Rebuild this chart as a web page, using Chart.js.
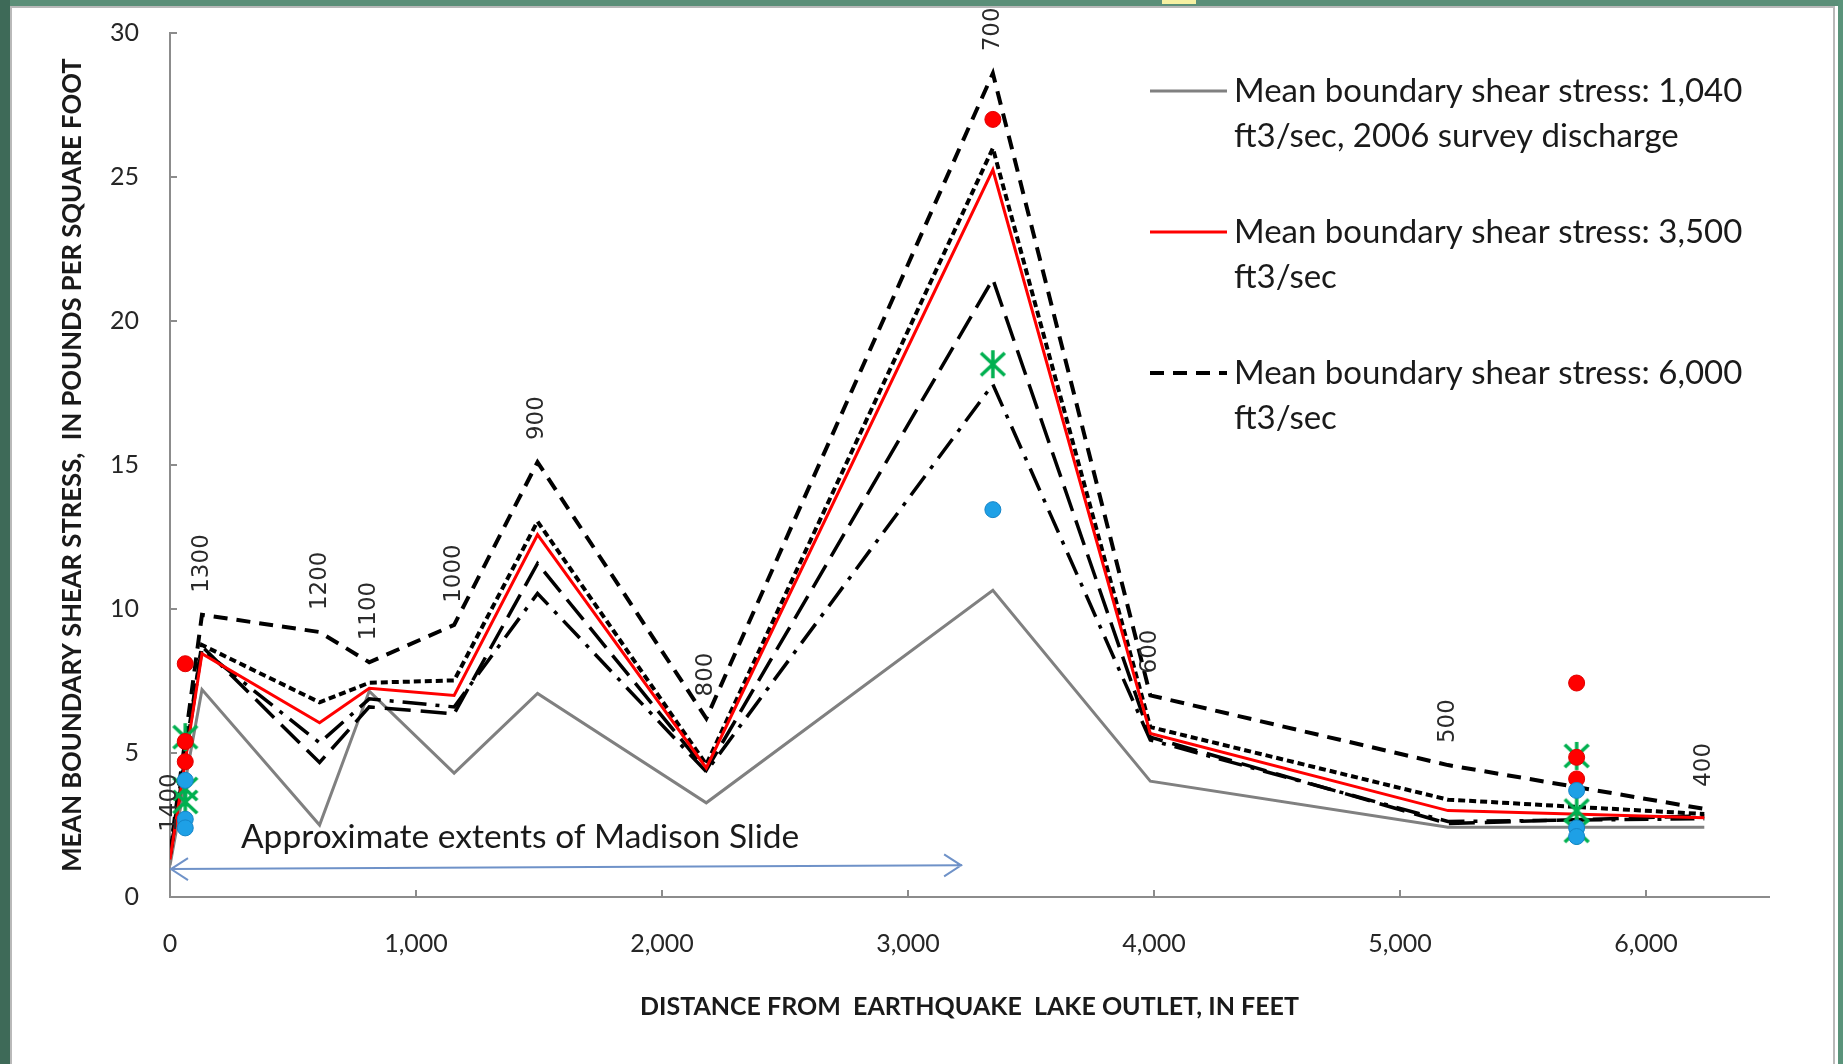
<!DOCTYPE html>
<html>
<head>
<meta charset="utf-8">
<title>Mean boundary shear stress - Madison River</title>
<script src="https://cdn.jsdelivr.net/npm/chart.js@4.4.1/dist/chart.umd.min.js"></script>
<style>
    html, body { margin: 0; padding: 0; background: #ffffff; overflow: hidden; }
    canvas { display: block; }
</style>
</head>
<body>
<canvas id="shearChart" width="1843" height="1064"></canvas>
<script>
// Cross sections (labels) and their distance from the outlet, in feet
const sections = ['1400', '1300', '1200', '1100', '1000', '900', '800', '700', '600', '500', '400'];
const distanceFt = [0, 130, 608, 810, 1155, 1494, 2180, 3345, 3985, 5195, 6237];

// Mean boundary shear stress, lb/ft2
const stress1040 = [1.1, 7.2, 2.5, 7.15, 4.3, 7.07, 3.27, 10.65, 4.02, 2.42, 2.42];
const stress3500 = [1.3, 8.45, 6.05, 7.25, 7.0, 12.58, 4.48, 25.25, 5.68, 3.0, 2.75];
const stress6000 = [1.5, 9.8, 9.2, 8.15, 9.45, 15.1, 6.2, 28.6, 7.0, 4.58, 3.06];
const stressDotted = [1.5, 8.75, 6.76, 7.44, 7.52, 13.04, 4.6, 26.0, 5.9, 3.38, 2.88];
const stressLongDash = [1.4, 8.7, 4.67, 6.6, 6.36, 11.58, 4.4, 21.45, 5.55, 2.55, 2.82];
const stressDashDot = [1.4, 8.6, 5.35, 6.88, 6.6, 10.54, 4.35, 17.8, 5.45, 2.62, 2.72];

// Single measured points
const pointFt = [62, 62, 62, 3345, 5718, 5718, 5718];
const redPointVal = [8.1, 5.4, 4.7, 27.0, 7.43, 4.85, 4.1];
const greenPointVal = [5.55, 3.75, 3.3, 18.5, 4.9, 3.0, 2.3];
const bluePointVal = [4.05, 2.7, 2.4, 13.45, 3.7, 2.4, 2.1];

// Madison Slide extents arrow
const slideExtentFt = [0, 3220];
const slideArrowVal = [0.97, 1.1];
const slideText = 'Approximate extents of Madison Slide';

// Axis ticks
const xTicks = [0, 1000, 2000, 3000, 4000, 5000, 6000];
const yTicks = [0, 5, 10, 15, 20, 25, 30];

const legendLines = [
    ['Mean boundary shear stress: 1,040', 'ft3/sec, 2006 survey discharge'],
    ['Mean boundary shear stress: 3,500', 'ft3/sec'],
    ['Mean boundary shear stress: 6,000', 'ft3/sec']
];

function toPoints(xs, ys) {
    return xs.map((x, i) => ({ x: x, y: ys[i] }));
}

// Excel style "star" marker: an X with a vertical bar
function makeStarMarker(size, color, lw) {
    const c = document.createElement('canvas');
    c.width = size;
    c.height = size;
    const g = c.getContext('2d');
    const m = size / 2;
    const r = size / 2 - 2;
    g.strokeStyle = color;
    g.lineWidth = lw;
    g.beginPath();
    g.moveTo(m - r * 0.85, m - r * 0.8); g.lineTo(m + r * 0.85, m + r * 0.8);
    g.moveTo(m + r * 0.85, m - r * 0.8); g.lineTo(m - r * 0.85, m + r * 0.8);
    g.moveTo(m, m - r); g.lineTo(m, m + r);
    g.stroke();
    return c;
}

function lineSet(label, values, color, width, dash, order) {
    return {
        label: label,
        data: toPoints(distanceFt, values),
        showLine: true,
        borderColor: color,
        borderWidth: width,
        borderDash: dash,
        pointRadius: 0,
        fill: false,
        tension: 0,
        order: order
    };
}

// Frame around the figure
const framePlugin = {
    id: 'frame',
    beforeDraw(chart) {
        const ctx = chart.ctx;
        const w = chart.width, h = chart.height;
        ctx.save();
        ctx.fillStyle = '#ffffff';
        ctx.fillRect(0, 0, w, h);
        ctx.fillStyle = '#5b8f78';
        ctx.fillRect(0, 0, w, 6);
        ctx.fillStyle = '#3e6a58';
        ctx.fillRect(0, 0, 10, h);
        ctx.fillStyle = '#5a937a';
        ctx.fillRect(w - 5, 0, 5, h);
        ctx.fillStyle = '#f6f1a2';
        ctx.fillRect(1162, 0, 34, 4);
        ctx.strokeStyle = '#b9b9b9';
        ctx.lineWidth = 2;
        ctx.beginPath();
        ctx.moveTo(11, h); ctx.lineTo(11, 7); ctx.lineTo(w - 9, 7); ctx.lineTo(w - 9, h);
        ctx.stroke();
        ctx.restore();
    }
};

// Inside tick marks
const tickPlugin = {
    id: 'insideTicks',
    afterDraw(chart) {
        const { ctx, scales: { x, y } } = chart;
        ctx.save();
        ctx.strokeStyle = '#8c8c8c';
        ctx.lineWidth = 2;
        ctx.beginPath();
        yTicks.forEach(v => {
            const py = Math.round(y.getPixelForValue(v));
            ctx.moveTo(x.left, py);
            ctx.lineTo(x.left + 7, py);
        });
        xTicks.slice(1).forEach(v => {
            const px = Math.round(x.getPixelForValue(v));
            ctx.moveTo(px, y.bottom);
            ctx.lineTo(px, y.bottom - 7);
        });
        ctx.stroke();
        ctx.restore();
    }
};

// Cross-section numbers, rotated, above the 6,000 ft3/sec line
const sectionLabelPlugin = {
    id: 'sectionLabels',
    afterDatasetsDraw(chart) {
        const { ctx, scales: { x, y } } = chart;
        ctx.save();
        ctx.font = '23px "DejaVu Sans"';
        ctx.fillStyle = '#2a2a2a';
        ctx.textAlign = 'left';
        ctx.textBaseline = 'middle';
        sections.forEach((s, i) => {
            const px = x.getPixelForValue(distanceFt[i]);
            const py = y.getPixelForValue(stress6000[i]) - 22;
            ctx.save();
            ctx.translate(px, py);
            ctx.rotate(-Math.PI / 2);
            ctx.fillText(s, 0, 0);
            ctx.restore();
        });
        ctx.restore();
    }
};

// Madison Slide arrow and text
const slidePlugin = {
    id: 'slideArrow',
    afterDatasetsDraw(chart) {
        const { ctx, scales: { x, y } } = chart;
        const x0 = x.getPixelForValue(slideExtentFt[0]);
        const x1 = x.getPixelForValue(slideExtentFt[1]);
        const y0 = y.getPixelForValue(slideArrowVal[0]);
        const y1 = y.getPixelForValue(slideArrowVal[1]);
        ctx.save();
        ctx.strokeStyle = '#6f92c8';
        ctx.lineWidth = 2;
        ctx.beginPath();
        ctx.moveTo(x0, y0); ctx.lineTo(x1, y1);
        ctx.moveTo(x0 + 18, y0 - 11); ctx.lineTo(x0 + 1, y0); ctx.lineTo(x0 + 18, y0 + 11);
        ctx.moveTo(x1 - 18, y1 - 11); ctx.lineTo(x1 - 1, y1); ctx.lineTo(x1 - 18, y1 + 11);
        ctx.stroke();

        ctx.font = '33.5px Lato';
        ctx.fillStyle = '#1a1a1a';
        ctx.textBaseline = 'middle';
        ctx.fillText(slideText, x0 + 71, y0 - 32);
        ctx.restore();
    }
};

// Legend in the upper right of the plot
const legendPlugin = {
    id: 'sideLegend',
    afterDraw(chart) {
        const ctx = chart.ctx;
        ctx.save();
        ctx.font = '33px Lato';
        ctx.fillStyle = '#1a1a1a';
        ctx.textBaseline = 'middle';
        legendLines.forEach((lines, i) => {
            const ds = chart.data.datasets[i];
            const ly = 91 + i * 141;
            ctx.strokeStyle = ds.borderColor;
            ctx.lineWidth = ds.borderWidth;
            ctx.setLineDash(ds.borderDash || []);
            ctx.beginPath();
            ctx.moveTo(1150, ly);
            ctx.lineTo(1227, ly);
            ctx.stroke();
            ctx.setLineDash([]);
            lines.forEach((t, k) => ctx.fillText(t, 1234, ly + k * 45));
        });
        ctx.restore();
    }
};

document.addEventListener('DOMContentLoaded', () => {
    const ctx = document.getElementById('shearChart').getContext('2d');
    const starMarker = makeStarMarker(32, '#00b050', 3.5);
    const tickFont = { family: 'Lato', size: 25 };

    new Chart(ctx, {
        type: 'scatter',
        data: {
            datasets: [
                lineSet('Mean boundary shear stress: 1,040 ft3/sec, 2006 survey discharge', stress1040, '#808080', 3, [], 8),
                lineSet('Mean boundary shear stress: 3,500 ft3/sec', stress3500, '#ff0000', 3, [], 4),
                lineSet('Mean boundary shear stress: 6,000 ft3/sec', stress6000, '#000000', 4, [14, 9], 5),
                lineSet('Dotted', stressDotted, '#000000', 4, [7, 4], 5),
                lineSet('Long dash', stressLongDash, '#000000', 3.5, [26, 10], 6),
                lineSet('Long dash dot', stressDashDot, '#000000', 3.5, [24, 9, 4, 9], 7),
                {
                    label: 'Measured red',
                    data: toPoints(pointFt, redPointVal),
                    showLine: false,
                    pointStyle: 'circle',
                    pointRadius: 8,
                    backgroundColor: '#ff0000',
                    borderColor: '#e00000',
                    borderWidth: 1,
                    order: 1
                },
                {
                    label: 'Measured green',
                    data: toPoints(pointFt, greenPointVal),
                    showLine: false,
                    pointStyle: starMarker,
                    pointRadius: 16,
                    order: 2
                },
                {
                    label: 'Measured blue',
                    data: toPoints(pointFt, bluePointVal),
                    showLine: false,
                    pointStyle: 'circle',
                    pointRadius: 8,
                    backgroundColor: '#1ea0e6',
                    borderColor: '#1585c8',
                    borderWidth: 1,
                    order: 0
                }
            ]
        },
        options: {
            responsive: false,
            animation: false,
            events: [],
            layout: { padding: { left: 0, top: 33, right: 74, bottom: 0 } },
            plugins: {
                legend: { display: false },
                tooltip: { enabled: false }
            },
            scales: {
                x: {
                    type: 'linear',
                    min: 0,
                    max: 6500,
                    afterBuildTicks: scale => { scale.ticks = xTicks.map(v => ({ value: v })); },
                    ticks: {
                        padding: 32,
                        maxRotation: 0,
                        autoSkip: false,
                        color: '#262626',
                        font: tickFont,
                        callback: v => v.toLocaleString('en-US')
                    },
                    grid: { display: false, drawTicks: false },
                    border: { display: true, color: '#8c8c8c', width: 2 },
                    title: {
                        display: true,
                        text: 'DISTANCE FROM  EARTHQUAKE  LAKE OUTLET, IN FEET',
                        color: '#1a1a1a',
                        font: { family: 'Lato', size: 25, weight: 'bold' },
                        padding: { top: 0, bottom: 42 }
                    },
                    afterFit: scale => {
                        scale.height = 167;
                        scale.paddingLeft = 0;
                        scale.paddingRight = 0;
                    }
                },
                y: {
                    type: 'linear',
                    min: 0,
                    max: 30,
                    afterBuildTicks: scale => { scale.ticks = yTicks.map(v => ({ value: v })); },
                    ticks: {
                        padding: 31,
                        color: '#262626',
                        font: tickFont
                    },
                    grid: { display: false, drawTicks: false },
                    border: { display: true, color: '#8c8c8c', width: 2 },
                    title: {
                        display: true,
                        text: 'MEAN BOUNDARY SHEAR STRESS,  IN POUNDS PER SQUARE FOOT',
                        color: '#1a1a1a',
                        font: { family: 'Lato', size: 25.7, weight: 'bold' },
                        padding: { top: 57, bottom: 0 }
                    },
                    afterFit: scale => {
                        scale.width = 170;
                        scale.paddingTop = 0;
                        scale.paddingBottom = 0;
                    }
                }
            }
        },
        plugins: [framePlugin, tickPlugin, sectionLabelPlugin, slidePlugin, legendPlugin]
    });
});
</script>
</body>
</html>
